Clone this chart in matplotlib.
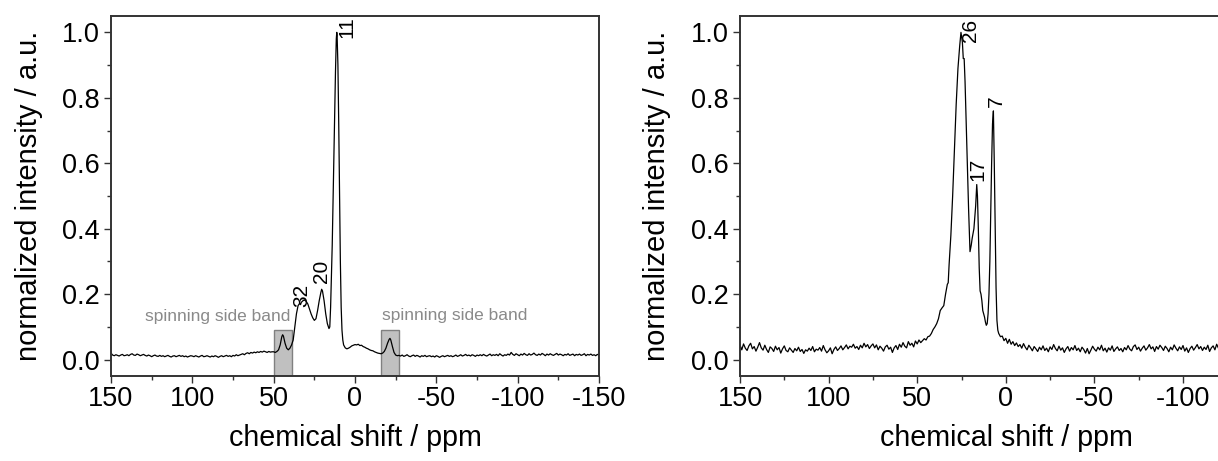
import numpy as np
import matplotlib
matplotlib.use("Agg")
import matplotlib.pyplot as plt
from matplotlib.patches import Rectangle

plt.rcParams['font.family'] = ['Liberation Sans', 'DejaVu Sans']
plt.rcParams['axes.unicode_minus'] = False

# ---------------- data: left spectrum ----------------
left_base1_ppm = np.arange(150, 50, -1)  # 150 .. 51
left_base1_int = [
    0.020, 0.014, 0.012, 0.015, 0.013, 0.011, 0.014, 0.016, 0.012, 0.013,
    0.015, 0.012, 0.016, 0.018, 0.014, 0.013, 0.017, 0.015, 0.012, 0.014,
    0.016, 0.013, 0.011, 0.014, 0.012, 0.009, 0.012, 0.014, 0.011, 0.010,
    0.013, 0.010, 0.012, 0.009, 0.011, 0.013, 0.010, 0.008, 0.011, 0.012,
    0.009, 0.011, 0.013, 0.010, 0.012, 0.009, 0.011, 0.008, 0.010, 0.012,
    0.011, 0.009, 0.012, 0.010, 0.008, 0.011, 0.013, 0.009, 0.010, 0.012,
    0.010, 0.008, 0.011, 0.009, 0.012, 0.010, 0.007, 0.010, 0.012, 0.009,
    0.011, 0.013, 0.010, 0.012, 0.009, 0.013, 0.011, 0.015, 0.012, 0.014,
    0.016, 0.018, 0.015, 0.019, 0.021, 0.018, 0.022, 0.020, 0.023, 0.021,
    0.024, 0.022, 0.025, 0.023, 0.026, 0.024, 0.022, 0.025, 0.023, 0.024,
]
left_peak_ppm = [50, 49, 48, 47, 46, 45, 44.5, 44, 43, 42, 41, 40, 39, 38, 37, 36, 35, 34,
                 33.5, 33, 32, 31, 30, 29, 28, 27, 26, 25, 24, 23, 22, 21, 20.5, 20, 19, 18,
                 17, 16, 15.5, 15, 14, 13, 12, 11.5, 11.2, 11, 10.5, 10, 9.5, 9, 8.5, 8, 7.5,
                 7, 6, 5, 4, 3, 2, 1, 0, -1, -2, -3, -4, -5, -6, -7, -8, -9, -10, -11, -12,
                 -13, -14, -15, -16, -17, -18, -19, -20, -21, -21.5, -22, -23, -24, -25, -26]
left_peak_int = [0.024, 0.022, 0.025, 0.030, 0.045, 0.070, 0.076, 0.072, 0.050, 0.035, 0.030,
                 0.035, 0.045, 0.060, 0.100, 0.140, 0.165, 0.172, 0.168, 0.175, 0.180, 0.182,
                 0.178, 0.170, 0.155, 0.140, 0.128, 0.120, 0.125, 0.150, 0.180, 0.205, 0.215,
                 0.210, 0.180, 0.140, 0.110, 0.095, 0.100, 0.160, 0.350, 0.620, 0.880, 0.980,
                 1.000, 0.990, 0.900, 0.720, 0.500, 0.300, 0.160, 0.090, 0.060, 0.045, 0.036,
                 0.033, 0.035, 0.038, 0.042, 0.044, 0.046, 0.045, 0.047, 0.043, 0.044, 0.040,
                 0.038, 0.035, 0.033, 0.030, 0.028, 0.027, 0.024, 0.022, 0.020, 0.019, 0.018,
                 0.020, 0.025, 0.035, 0.050, 0.062, 0.065, 0.060, 0.040, 0.022, 0.014, 0.012]
left_base2_ppm = np.arange(-27, -151, -1)  # -27 .. -150
left_base2_int = [
    0.013, 0.011, 0.014, 0.010, 0.012, 0.015, 0.011, 0.009, 0.012, 0.014,
    0.010, 0.013, 0.011, 0.008, 0.012, 0.010, 0.013, 0.009, 0.011, 0.012,
    0.009, 0.011, 0.008, 0.012, 0.010, 0.007, 0.010, 0.012, 0.009, 0.011,
    0.013, 0.010, 0.012, 0.009, 0.011, 0.014, 0.010, 0.012, 0.015, 0.011,
    0.013, 0.016, 0.012, 0.014, 0.011, 0.015, 0.013, 0.010, 0.014, 0.012,
    0.015, 0.012, 0.016, 0.013, 0.011, 0.014, 0.017, 0.012, 0.015, 0.013,
    0.016, 0.012, 0.018, 0.014, 0.011, 0.015, 0.013, 0.017, 0.014, 0.022,
    0.016, 0.013, 0.018, 0.015, 0.012, 0.017, 0.014, 0.019, 0.015, 0.013,
    0.018, 0.014, 0.016, 0.020, 0.015, 0.013, 0.017, 0.014, 0.019, 0.016,
    0.012, 0.017, 0.014, 0.018, 0.015, 0.013, 0.016, 0.019, 0.014, 0.017,
    0.015, 0.012, 0.016, 0.014, 0.018, 0.013, 0.015, 0.017, 0.012, 0.016,
    0.014, 0.017, 0.013, 0.015, 0.018, 0.012, 0.016, 0.014, 0.017, 0.013,
    0.015, 0.012, 0.016, 0.014,
]

# ---------------- data: right spectrum ----------------
right_base1_ppm = np.arange(150, 45, -1)  # 150 .. 46
right_base1_int = [
    0.045, 0.030, 0.048, 0.035, 0.028, 0.042, 0.050, 0.033, 0.040, 0.026,
    0.038, 0.052, 0.036, 0.029, 0.044, 0.031, 0.022, 0.039, 0.034, 0.025,
    0.041, 0.030, 0.037, 0.020, 0.033, 0.042, 0.028, 0.024, 0.036, 0.029,
    0.022, 0.034, 0.027, 0.038, 0.025, 0.031, 0.019, 0.030, 0.026, 0.035,
    0.028, 0.040, 0.024, 0.032, 0.029, 0.037, 0.026, 0.043, 0.030, 0.021,
    0.027, 0.036, 0.018, 0.031, 0.039, 0.028, 0.034, 0.042, 0.030, 0.037,
    0.045, 0.033, 0.041, 0.038, 0.047, 0.035, 0.040, 0.031, 0.044, 0.036,
    0.050, 0.039, 0.046, 0.034, 0.042, 0.048, 0.036, 0.045, 0.030, 0.041,
    0.035, 0.026, 0.039, 0.044, 0.032, 0.038, 0.022, 0.036, 0.043, 0.031,
    0.047, 0.038, 0.052, 0.041, 0.036, 0.055, 0.044, 0.050, 0.039, 0.057,
    0.048, 0.060, 0.052, 0.058, 0.064,
]
right_peak_ppm = [45, 44, 43, 42, 41, 40, 39, 38, 37, 36, 35, 34, 33, 32.5, 32, 31, 30, 29,
                  28, 27, 26, 25.3, 24.5, 24, 23.5, 23, 22, 21, 20.2, 19.5, 19, 18, 17, 16.4,
                  16, 15.5, 15, 14.5, 14, 13.5, 13, 12.5, 12, 11.5, 11, 10.5, 10, 9.5, 9, 8.5,
                  8, 7.5, 7, 6.5, 6, 5.5, 5, 4.5, 4, 3]
right_peak_int = [0.060, 0.070, 0.072, 0.080, 0.092, 0.100, 0.110, 0.125, 0.150, 0.158, 0.165,
                  0.200, 0.230, 0.235, 0.290, 0.380, 0.500, 0.640, 0.780, 0.890, 0.960, 1.000,
                  0.970, 0.920, 0.920, 0.850, 0.660, 0.460, 0.330, 0.350, 0.370, 0.400, 0.470,
                  0.535, 0.500, 0.400, 0.280, 0.210, 0.200, 0.180, 0.150, 0.140, 0.130, 0.115,
                  0.105, 0.110, 0.140, 0.200, 0.300, 0.450, 0.600, 0.720, 0.760, 0.600, 0.400,
                  0.220, 0.120, 0.090, 0.080, 0.070]
right_base2_ppm = np.arange(2, -151, -1)  # 2 .. -150
right_base2_int = [
    0.072, 0.058, 0.065, 0.050, 0.062, 0.047, 0.055, 0.043, 0.051, 0.040,
    0.046, 0.035, 0.049, 0.038, 0.030, 0.044, 0.036, 0.027, 0.040, 0.033,
    0.025, 0.038, 0.030, 0.042, 0.028, 0.035, 0.024, 0.039, 0.031, 0.046,
    0.034, 0.027, 0.041, 0.029, 0.036, 0.022, 0.033, 0.040, 0.026, 0.037,
    0.030, 0.043, 0.028, 0.035, 0.024, 0.038, 0.031, 0.020, 0.034, 0.018,
    0.029, 0.041, 0.032, 0.026, 0.038, 0.030, 0.044, 0.027, 0.035, 0.023,
    0.036, 0.029, 0.042, 0.025, 0.033, 0.039, 0.028, 0.034, 0.024, 0.037,
    0.030, 0.043, 0.032, 0.027, 0.040, 0.045, 0.031, 0.038, 0.026, 0.035,
    0.042, 0.029, 0.036, 0.046, 0.033, 0.039, 0.025, 0.040, 0.032, 0.044,
    0.037, 0.028, 0.041, 0.034, 0.024, 0.038, 0.030, 0.045, 0.035, 0.027,
    0.039, 0.031, 0.043, 0.026, 0.036, 0.022, 0.034, 0.041, 0.029, 0.037,
    0.046, 0.033, 0.040, 0.028, 0.038, 0.031, 0.044, 0.025, 0.036, 0.042,
    0.030, 0.047, 0.035, 0.028, 0.040, 0.033, 0.038, 0.029, 0.043, 0.031,
    0.036, 0.026, 0.041, 0.034, 0.030, 0.045, 0.032, 0.038, 0.027, 0.039,
    0.033, 0.042, 0.029, 0.037, 0.031, 0.044, 0.028, 0.036, 0.040, 0.030,
    0.035, 0.041, 0.032,
]

# annotations
left_labels = ["32", "20", "11"]
left_label_ppm = [32.9, 20.3, 5.0]
left_label_int = [0.16, 0.234, 0.984]
right_labels = ["26", "17", "7"]
right_label_ppm = [20.2, 15.7, 5.1]
right_label_int = [0.971, 0.546, 0.771]
sideband_centers = [44.5, -21.5]
sideband_width = 11
sideband_top = 0.09
sideband_text = "spinning side band"

left_xlim = (150, -150)
right_xlim = (150, -120.2)
x_ticks = [150, 100, 50, 0, -50, -100, -150]
y_ticks = [0.0, 0.2, 0.4, 0.6, 0.8, 1.0]

left_ppm = np.concatenate([left_base1_ppm, left_peak_ppm, left_base2_ppm])
left_int = np.concatenate([left_base1_int, left_peak_int, left_base2_int])
right_ppm = np.concatenate([right_base1_ppm, right_peak_ppm, right_base2_ppm])
right_int = np.concatenate([right_base1_int, right_peak_int, right_base2_int])

W, H = 1218, 461
px_per_ppm_R = 1.772
fig = plt.figure(figsize=(W / 100, H / 100), dpi=100)
axL = fig.add_axes([111 / W, (H - 376) / H, 488 / W, 360 / H])
wR = (right_xlim[0] - right_xlim[1]) * px_per_ppm_R
axR = fig.add_axes([740 / W, (H - 376) / H, wR / W, 360 / H])

spine_col = '#333333'
for ax, ppm, inten, xl in [(axL, left_ppm, left_int, left_xlim),
                           (axR, right_ppm, right_int, right_xlim)]:
    ax.plot(ppm, inten, color='black', lw=0.9)
    ax.set_xlim(*xl)
    ax.set_ylim(-0.05, 1.05)
    ticks = [t for t in x_ticks if min(xl) <= t <= max(xl)]
    ax.set_xticks(ticks)
    ax.set_xticklabels([str(t) for t in ticks])
    ax.set_yticks(y_ticks)
    ax.set_yticklabels([f"{t:.1f}" for t in y_ticks])
    minor = [t for t in np.arange(150, -151, -25) if min(xl) <= t <= max(xl)]
    ax.set_xticks(minor, minor=True)
    ax.set_yticks(np.arange(0.0, 1.01, 0.1), minor=True)
    ax.tick_params(which='both', direction='out', top=False, right=False,
                   color=spine_col, width=1.0)
    ax.tick_params(which='major', length=5, labelsize=19.5)
    ax.tick_params(axis='x', which='major', pad=2.5)
    ax.tick_params(axis='y', which='major', pad=3)
    ax.tick_params(which='minor', length=3)
    for s in ax.spines.values():
        s.set_color(spine_col)
        s.set_linewidth(1.4)
    ax.set_xlabel("chemical shift / ppm", fontsize=20.6)
    ax.set_ylabel("normalized intensity / a.u.", fontsize=21)

axR.spines['right'].set_visible(False)

axL.xaxis.set_label_coords(0.5, -0.133)
axR.xaxis.set_label_coords(266 / wR, -0.133)
axL.yaxis.set_label_coords(-68 / 488, 0.5)
axR.yaxis.set_label_coords(-69 / wR, 0.5)

# side bands
for c in sideband_centers:
    axL.add_patch(Rectangle((c - sideband_width / 2, -0.05), sideband_width, sideband_top + 0.05,
                            facecolor='#c0c0c0', edgecolor='#808080', lw=1.0, zorder=1))
axL.text(39.5, 0.132, sideband_text, ha='right', va='center', fontsize=12.5, color='#8a8a8a')
axL.text(-16.5, 0.135, sideband_text, ha='left', va='center', fontsize=12.5, color='#8a8a8a')

for lab, x, y in zip(left_labels, left_label_ppm, left_label_int):
    axL.text(x, y, lab, rotation=90, ha='center', va='bottom', fontsize=15)
for lab, x, y in zip(right_labels, right_label_ppm, right_label_int):
    axR.text(x, y, lab, rotation=90, ha='center', va='bottom', fontsize=15)

fig.savefig('out.png', dpi=100)
